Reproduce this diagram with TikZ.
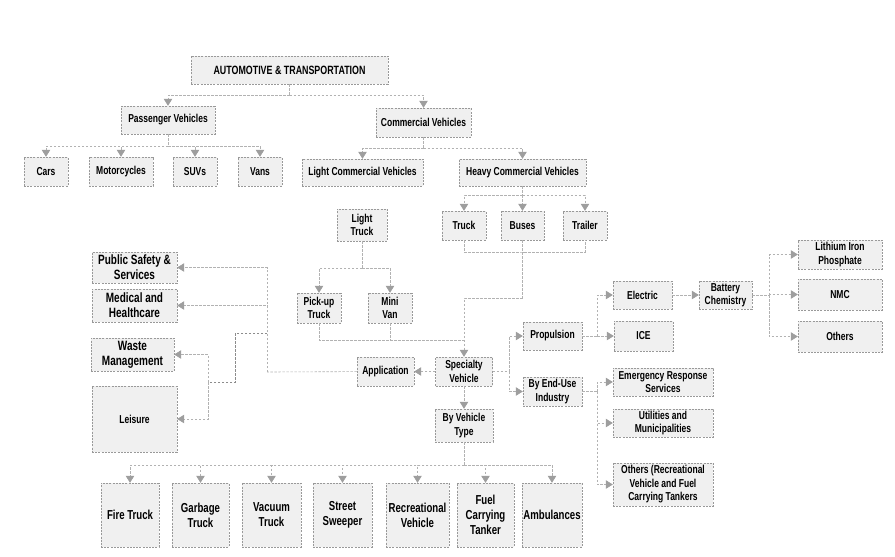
\documentclass[tikz,border=0pt]{standalone}
\usepackage{fontspec}
\setmainfont{Liberation Sans}[FakeStretch=0.74]
\usetikzlibrary{arrows.meta}

\begin{document}
\begin{tikzpicture}[x=1pt,y=-1pt,
  box/.style 2 args={draw=black!40,dash pattern=on 2pt off 1.2pt,fill=gray!12,align=center,inner sep=1pt,
    minimum width=#1pt,minimum height=#2pt,font=\bfseries\fontsize{11.5}{13.5}\selectfont},
  big/.style={font=\bfseries\fontsize{13.5}{15}\selectfont},
  low/.style={font=\bfseries\fontsize{13}{15}\selectfont},
  line/.style={draw=black!30,dash pattern=on 2.5pt off 1.5pt,line width=0.6pt},
  arr/.style={line,-{Triangle[width=8.5pt,length=7pt,color=black!38,fill=black!38]}}]
  \useasboundingbox (0,0) rectangle (895,557);

  \node[box={197}{28},font=\bfseries\fontsize{12}{13.5}\selectfont] (auto) at (289.5,70) {AUTOMOTIVE \& TRANSPORTATION};
  \node[box={94}{28}] (pass) at (168,120) {Passenger Vehicles};
  \node[box={95}{29}] (comm) at (423.5,122.5) {Commercial Vehicles};
  \node[box={44}{29}] (cars) at (46,171.5) {Cars};
  \node[box={64}{29}] (moto) at (121,171.5) {Motorcycles};
  \node[box={44}{29}] (suvs) at (195,171.5) {SUVs};
  \node[box={44}{29}] (vans) at (260,171.5) {Vans};
  \node[box={121}{27}] (lcv) at (362.5,172.5) {Light Commercial Vehicles};
  \node[box={127}{27}] (hcv) at (522.5,172.5) {Heavy Commercial Vehicles};
  \node[box={44}{29}] (truck) at (464,225.5) {Truck};
  \node[box={43}{29}] (buses) at (522.5,225.5) {Buses};
  \node[box={44}{29}] (trailer) at (585,225.5) {Trailer};
  \node[box={50}{32}] (ltruck) at (362,225) {Light\\Truck};
  \node[box={44}{30}] (pickup) at (319,308) {Pick-up\\Truck};
  \node[box={44}{30}] (minivan) at (390,308) {Mini\\Van};
  \node[box={57}{29}] (spec) at (464,371.5) {Specialty\\Vehicle};
  \node[box={57}{29}] (app) at (385.5,371.5) {Application};
  \node[box={85}{31},big] (pubsafe) at (134.5,267.5) {Public Safety \&\\Services};
  \node[box={85}{33},big] (medical) at (134.5,305.5) {Medical and\\Healthcare};
  \node[box={83}{33},big] (waste) at (132.5,354.5) {Waste\\Management};
  \node[box={85}{66}] (leisure) at (134.5,419) {Leisure};
  \node[box={58}{33}] (bytype) at (464,425.5) {By Vehicle\\Type};
  \node[box={58}{64},low] (fire) at (130,515) {Fire Truck};
  \node[box={57}{64},low] (garbage) at (200.5,515) {Garbage\\Truck};
  \node[box={59}{64},low] (vacuum) at (271.5,515) {Vacuum\\Truck};
  \node[box={59}{64},low] (street) at (342.5,515) {Street\\Sweeper};
  \node[box={63}{64},low] (recre) at (417.5,515) {Recreational\\Vehicle};
  \node[box={57}{64},low] (fuel) at (485.5,515) {Fuel\\Carrying\\Tanker};
  \node[box={60}{64},low] (amb) at (552,515) {Ambulances};
  \node[box={59}{28}] (prop) at (552.5,336) {Propulsion};
  \node[box={59}{29}] (enduse) at (552.5,391.5) {By End-Use\\Industry};
  \node[box={59}{28}] (electric) at (642.5,295) {Electric};
  \node[box={59}{30}] (ice) at (643.5,336) {ICE};
  \node[box={53}{28}] (battery) at (725.5,295) {Battery\\Chemistry};
  \node[box={84}{29}] (lfp) at (840,254.5) {Lithium Iron\\Phosphate};
  \node[box={84}{31}] (nmc) at (840,294.5) {NMC};
  \node[box={84}{31}] (others1) at (840,336.5) {Others};
  \node[box={100}{28}] (emerg) at (663,382) {Emergency Response\\Services};
  \node[box={100}{28}] (util) at (663,423) {Utilities and\\Municipalities};
  \node[box={100}{43}] (others2) at (663,484.5) {Others (Recreational\\Vehicle and Fuel\\Carrying Tankers};

  \coordinate (j1) at (289.5,95);
  \coordinate (j2) at (168,146);
  \coordinate (j3) at (423.5,148);
  \coordinate (j4) at (522.5,195);
  \coordinate (j5) at (522.5,252);
  \coordinate (j6) at (522.5,298);
  \coordinate (j7) at (362,268);
  \coordinate (j8) at (464,340);
  \coordinate (j9) at (267,372);
  \coordinate (j10) at (267,333);
  \coordinate (j11) at (208,382);
  \coordinate (j12) at (464,465);
  \coordinate (j13) at (509,371.5);
  \coordinate (j14) at (597,336);
  \coordinate (j15) at (769,295);
  \coordinate (j16) at (597,391.5);

  \draw[line] (auto) -- (j1);
  \draw[arr] (j1) -| (pass);
  \draw[arr] (j1) -| (comm);
  \draw[line] (pass) -- (j2);
  \foreach \n in {cars,moto,suvs,vans} \draw[arr] (j2) -| (\n);
  \draw[line] (comm) -- (j3);
  \draw[arr] (j3) -| (lcv);
  \draw[arr] (j3) -| (hcv);
  \draw[line] (hcv) -- (j4);
  \foreach \n in {truck,buses,trailer} \draw[arr] (j4) -| (\n);
  \draw[line] (truck) |- (j5) -| (trailer);
  \draw[line] (buses) -- (j5) -- (j6);
  \draw[arr] (j6) -| (spec);
  \draw[line] (ltruck) -- (j7);
  \draw[arr] (j7) -| (pickup);
  \draw[arr] (j7) -| (minivan);
  \draw[line] (pickup) |- (j8);
  \draw[line] (minivan.south) -- (minivan.south |- j8);
  \draw[arr] (spec) -- (app);
  \draw[line] (app) -- (j9);
  \draw[arr] (j9) |- (pubsafe);
  \draw[arr] (j9) |- (medical);
  \draw[line,draw=black!45] (j10) -- ++(-32,0) |- (j11);
  \draw[arr] (j11) |- (waste);
  \draw[arr] (j11) |- (leisure);
  \draw[arr] (spec) -- (bytype);
  \draw[line] (bytype) -- (j12);
  \foreach \n in {fire,garbage,vacuum,street,recre,fuel,amb} \draw[arr] (j12) -| (\n);
  \draw[line] (spec) -- (j13);
  \draw[arr] (j13) |- (prop);
  \draw[arr] (j13) |- (enduse);
  \draw[line] (prop) -- (j14);
  \draw[arr] (j14) |- (electric);
  \draw[arr] (j14) |- (ice);
  \draw[arr] (electric) -- (battery);
  \draw[line] (battery) -- (j15);
  \foreach \n in {lfp,nmc,others1} \draw[arr] (j15) |- (\n);
  \draw[line] (enduse) -- (j16);
  \foreach \n in {emerg,util,others2} \draw[arr] (j16) |- (\n);
\end{tikzpicture}
\end{document}
